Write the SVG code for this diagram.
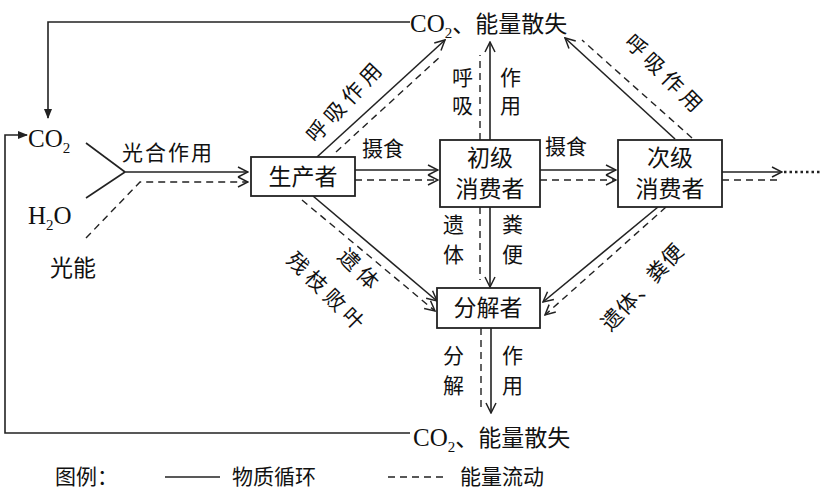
<svg xmlns="http://www.w3.org/2000/svg" width="828" height="500" viewBox="0 0 828 500">
<style>
.s{fill:none;stroke:#222;stroke-width:1.6}
.d{fill:none;stroke:#222;stroke-width:1.4;stroke-dasharray:7,5}
.box{fill:#fff;stroke:#222;stroke-width:1.8}
text{font-family:"Liberation Serif","Noto Sans CJK SC",serif;fill:#111}
.c{font-family:"Noto Sans CJK SC",sans-serif;font-size:21px}
.r{letter-spacing:5px}
.n{font-family:"Noto Sans CJK SC",sans-serif;font-size:23px}
.l{font-size:25px}
</style>
<defs>
<marker id="a" viewBox="0 0 12 12" refX="11" refY="6" markerWidth="12" markerHeight="12" markerUnits="userSpaceOnUse" orient="auto"><path d="M1,1 L11,6 L1,11" fill="none" stroke="#222" stroke-width="1.5"/></marker>
<marker id="f" viewBox="0 0 10 10" refX="9" refY="5" markerWidth="10" markerHeight="10" markerUnits="userSpaceOnUse" orient="auto"><path d="M0,1 L10,5 L0,9 Z" fill="#222"/></marker>
</defs>
<g id="connectors">
<polyline class="s" points="410,22 48,22 48,118" marker-end="url(#f)"/>
<polyline class="s" points="410,433 5,433 5,135 27,135" marker-end="url(#f)"/>
<line class="s" x1="86" y1="143" x2="125" y2="172"/>
<line class="s" x1="86" y1="198" x2="125" y2="172"/>
<line class="s" x1="125" y1="172" x2="248" y2="172" marker-end="url(#a)"/>
<polyline class="d" points="86,238 140,182 248,182" marker-end="url(#a)"/>
<line class="s" x1="355" y1="170" x2="438" y2="170" marker-end="url(#a)"/>
<line class="d" x1="355" y1="180" x2="438" y2="180" marker-end="url(#a)"/>
<line class="s" x1="540" y1="170" x2="616" y2="170" marker-end="url(#a)"/>
<line class="d" x1="540" y1="180" x2="616" y2="180" marker-end="url(#a)"/>
<line class="s" x1="722" y1="172" x2="782" y2="172" marker-end="url(#a)"/>
<line class="d" x1="722" y1="180" x2="778" y2="180"/>
<line x1="784" y1="172" x2="820" y2="172" stroke="#222" stroke-width="2.5" stroke-dasharray="2.5,3"/>
<line class="s" x1="317" y1="157" x2="445" y2="40" marker-end="url(#a)"/>
<line class="d" x1="336" y1="152" x2="442" y2="55"/>
<line class="s" x1="490" y1="140" x2="490" y2="42" marker-end="url(#a)"/>
<line class="d" x1="480" y1="140" x2="480" y2="55"/>
<line class="s" x1="675" y1="139" x2="565" y2="38" marker-end="url(#a)"/>
<line class="d" x1="692" y1="138" x2="582" y2="40"/>
<line class="s" x1="313" y1="196" x2="437" y2="301" marker-end="url(#a)"/>
<line class="d" x1="302" y1="200" x2="435" y2="311" marker-end="url(#a)"/>
<line class="s" x1="490" y1="207" x2="490" y2="287" marker-end="url(#a)"/>
<line class="d" x1="480" y1="207" x2="480" y2="280"/>
<line class="s" x1="658" y1="207" x2="543" y2="302" marker-end="url(#a)"/>
<line class="d" x1="666" y1="207" x2="545" y2="315" marker-end="url(#a)"/>
<line class="s" x1="491" y1="328" x2="491" y2="413" marker-end="url(#a)"/>
<line class="d" x1="481" y1="328" x2="481" y2="408"/>
</g>
<g id="labels">
<text x="410" y="32" class="l">CO<tspan font-size="15" dy="6">2</tspan><tspan dy="-6" class="n" font-size="25">、能量散失</tspan></text>
<text x="413" y="446" class="l">CO<tspan font-size="15" dy="6">2</tspan><tspan dy="-6" class="n" font-size="25">、能量散失</tspan></text>
<text x="28" y="147" class="l">CO<tspan font-size="15" dy="6">2</tspan></text>
<text x="28" y="224" class="l">H<tspan font-size="15" dy="6">2</tspan><tspan dy="-6">O</tspan></text>
<text x="50" y="276" class="n" font-size="23">光能</text>
<text x="122" y="160" class="c r" style="letter-spacing:2px">光合作用</text>
<text x="362" y="156" class="c">摄食</text>
<text x="545" y="154" class="c">摄食</text>
<text class="c r" transform="translate(351,106) rotate(-47)" text-anchor="middle">呼吸作用</text>
<text class="c r" transform="translate(660,80) rotate(45)" text-anchor="middle">呼吸作用</text>
<text class="c" x="452" y="85">呼</text><text class="c" x="452" y="113">吸</text>
<text class="c" x="500" y="85">作</text><text class="c" x="500" y="113">用</text>
<text class="c" x="443" y="232">遗</text><text class="c" x="443" y="262">体</text>
<text class="c" x="502" y="232">粪</text><text class="c" x="502" y="262">便</text>
<text class="c" x="443" y="363">分</text><text class="c" x="443" y="393">解</text>
<text class="c" x="502" y="363">作</text><text class="c" x="502" y="393">用</text>
<text class="c r" transform="translate(355,276) rotate(45)" text-anchor="middle">遗体</text>
<text class="c r" transform="translate(322,298) rotate(45)" text-anchor="middle">残枝败叶</text>
<text class="c" style="letter-spacing:1px" transform="translate(648,292) rotate(-47)" text-anchor="middle">遗体、粪便</text>
<text class="c" x="55" y="484">图例：</text>
<line class="s" x1="165" y1="477" x2="220" y2="477"/>
<text class="c" x="232" y="484">物质循环</text>
<line class="d" x1="388" y1="477" x2="448" y2="477"/>
<text class="c" x="460" y="484">能量流动</text>
</g>
<g id="producer"><rect class="box" x="251" y="157" width="104" height="39"/><text class="n" x="303" y="185" text-anchor="middle">生产者</text></g>
<g id="primary"><rect class="box" x="440" y="140" width="100" height="67"/><text class="n" x="490" y="166" text-anchor="middle">初级</text><text class="n" x="490" y="197" text-anchor="middle">消费者</text></g>
<g id="secondary"><rect class="box" x="618" y="140" width="104" height="67"/><text class="n" x="670" y="166" text-anchor="middle">次级</text><text class="n" x="670" y="197" text-anchor="middle">消费者</text></g>
<g id="decomposer"><rect class="box" x="437" y="288" width="103" height="40"/><text class="n" x="488" y="316" text-anchor="middle">分解者</text></g>
</svg>
